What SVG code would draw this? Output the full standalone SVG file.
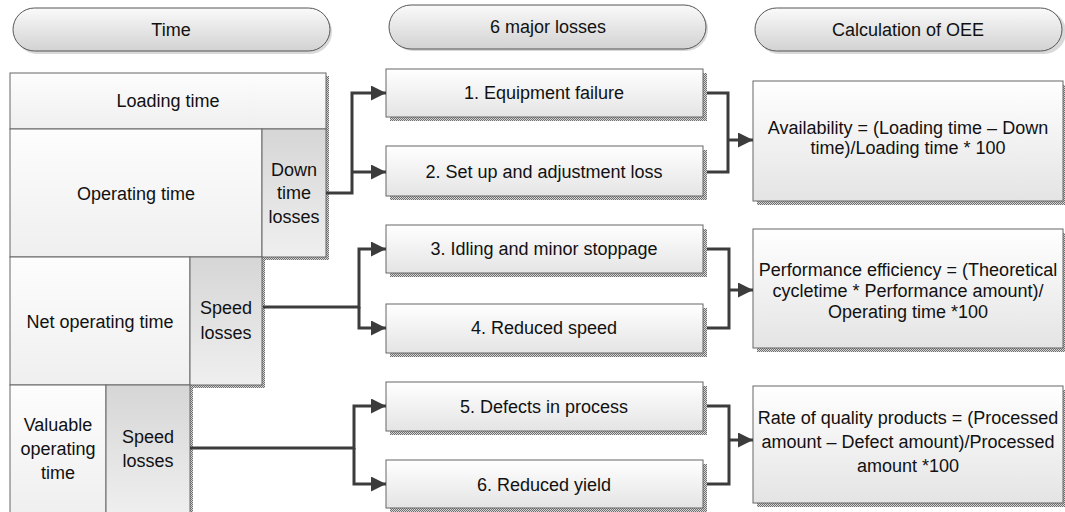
<svg xmlns="http://www.w3.org/2000/svg" width="1065" height="512" viewBox="0 0 1065 512">
  <defs>
    <linearGradient id="pillFill" x1="0" y1="0" x2="0" y2="1">
      <stop offset="0" stop-color="#fafafa"/>
      <stop offset="1" stop-color="#d2d2d2"/>
    </linearGradient>
    <linearGradient id="boxFill" x1="0" y1="0" x2="0" y2="1">
      <stop offset="0" stop-color="#ffffff"/>
      <stop offset="1" stop-color="#e4e4e4"/>
    </linearGradient>
    <linearGradient id="cellFill" x1="0" y1="0" x2="0" y2="1">
      <stop offset="0" stop-color="#fdfdfd"/>
      <stop offset="1" stop-color="#efefef"/>
    </linearGradient>
    <linearGradient id="lossFill" x1="0" y1="0" x2="0" y2="1">
      <stop offset="0" stop-color="#d6d6d6"/>
      <stop offset="1" stop-color="#efefef"/>
    </linearGradient>
    <pattern id="dots" width="2" height="2" patternUnits="userSpaceOnUse">
      <rect width="2" height="2" fill="#d8d8d8"/>
      <rect width="1" height="1" fill="#6e6e6e"/>
      <rect x="1" y="1" width="1" height="1" fill="#6e6e6e"/>
    </pattern>
    <marker id="arrow" viewBox="0 0 10 10" refX="10" refY="5" markerWidth="17" markerHeight="15" markerUnits="userSpaceOnUse" orient="auto">
      <path d="M0,0 L10,5 L0,10 z" fill="#3c3c3c"/>
    </marker>
  </defs>
  <style>
    text { font-family: "Liberation Sans", Arial, sans-serif; font-size: 18px; fill: #111; text-anchor: middle; }
    .pill { fill: url(#pillFill); stroke: #555; stroke-width: 1; }
    .pillShadow { fill: #d9d9d9; }
    .box { fill: url(#boxFill); stroke: #666; stroke-width: 1; }
    .shadow { fill: url(#dots); }
    .cell { fill: url(#cellFill); stroke: #666; stroke-width: 1; }
    .loss { fill: url(#lossFill); stroke: #666; stroke-width: 1; }
    .conn { fill: none; stroke: #3c3c3c; stroke-width: 3; }
  </style>

  <rect width="1065" height="512" fill="#ffffff"/>

  <!-- column headers -->
  <g id="header-time">
    <rect class="pillShadow" x="15" y="10" width="317" height="44" rx="22"/>
    <rect class="pill" x="13" y="8" width="317" height="43" rx="21.5"/>
    <text x="171" y="36">Time</text>
  </g>
  <g id="header-losses">
    <rect class="pillShadow" x="391" y="7" width="317" height="44" rx="22"/>
    <rect class="pill" x="389" y="5" width="317" height="44" rx="22"/>
    <text x="548" y="33">6 major losses</text>
  </g>
  <g id="header-oee">
    <rect class="pillShadow" x="757" y="10" width="309" height="44" rx="22"/>
    <rect class="pill" x="755" y="8" width="307" height="43" rx="21.5"/>
    <text x="908" y="36">Calculation of OEE</text>
  </g>

  <!-- stacked time breakdown -->
  <g id="time-shadow">
    <polygon class="shadow" points="326,76 329,76 329,260 265,260 265,388 193,388 193,512 190,512 190,385 262,385 262,257 326,257"/>
  </g>
  <g id="loading-time">
    <rect class="cell" x="10" y="73" width="316" height="56"/>
    <text x="168" y="107">Loading time</text>
  </g>
  <g id="operating-time">
    <rect class="cell" x="10" y="129" width="252" height="128"/>
    <text x="136" y="200">Operating time</text>
  </g>
  <g id="down-time-losses">
    <rect class="loss" x="262" y="129" width="64" height="128"/>
    <text x="294" y="176">Down</text>
    <text x="294" y="199">time</text>
    <text x="294" y="223">losses</text>
  </g>
  <g id="net-operating-time">
    <rect class="cell" x="10" y="257" width="180" height="128"/>
    <text x="100" y="328">Net operating time</text>
  </g>
  <g id="speed-losses-1">
    <rect class="loss" x="190" y="257" width="72" height="128"/>
    <text x="226" y="314">Speed</text>
    <text x="226" y="339">losses</text>
  </g>
  <g id="valuable-operating-time">
    <rect class="cell" x="10" y="385" width="96" height="130"/>
    <text x="58" y="431">Valuable</text>
    <text x="58" y="455">operating</text>
    <text x="58" y="479">time</text>
  </g>
  <g id="speed-losses-2">
    <rect class="loss" x="106" y="385" width="84" height="130"/>
    <text x="148" y="443">Speed</text>
    <text x="148" y="467">losses</text>
  </g>

  <!-- six major losses -->
  <g id="loss-1">
    <rect class="shadow" x="390" y="73" width="317" height="48"/>
    <rect class="box" x="386" y="69" width="317" height="48"/>
    <text x="544" y="99">1. Equipment failure</text>
  </g>
  <g id="loss-2">
    <rect class="shadow" x="390" y="150" width="317" height="50"/>
    <rect class="box" x="386" y="146" width="317" height="50"/>
    <text x="544" y="178">2. Set up and adjustment loss</text>
  </g>
  <g id="loss-3">
    <rect class="shadow" x="390" y="229" width="317" height="48"/>
    <rect class="box" x="386" y="225" width="317" height="48"/>
    <text x="544" y="255">3. Idling and minor stoppage</text>
  </g>
  <g id="loss-4">
    <rect class="shadow" x="390" y="308" width="317" height="49"/>
    <rect class="box" x="386" y="304" width="317" height="49"/>
    <text x="544" y="334">4. Reduced speed</text>
  </g>
  <g id="loss-5">
    <rect class="shadow" x="390" y="386" width="317" height="49"/>
    <rect class="box" x="386" y="382" width="317" height="49"/>
    <text x="544" y="413">5. Defects in process</text>
  </g>
  <g id="loss-6">
    <rect class="shadow" x="390" y="464" width="317" height="48"/>
    <rect class="box" x="386" y="460" width="317" height="48"/>
    <text x="544" y="491">6. Reduced yield</text>
  </g>

  <!-- OEE formulas -->
  <g id="availability">
    <rect class="shadow" x="757" y="85" width="310" height="120"/>
    <rect class="box" x="753" y="81" width="310" height="120"/>
    <text x="908" y="134">Availability = (Loading time – Down</text>
    <text x="908" y="154">time)/Loading time * 100</text>
  </g>
  <g id="performance-efficiency">
    <rect class="shadow" x="757" y="233" width="310" height="119"/>
    <rect class="box" x="753" y="229" width="310" height="119"/>
    <text x="908" y="276">Performance efficiency = (Theoretical</text>
    <text x="908" y="297">cycletime * Performance amount)/</text>
    <text x="908" y="318">Operating time *100</text>
  </g>
  <g id="quality-rate">
    <rect class="shadow" x="757" y="390" width="310" height="117"/>
    <rect class="box" x="753" y="386" width="310" height="117"/>
    <text x="908" y="424">Rate of quality products = (Processed</text>
    <text x="908" y="448">amount – Defect amount)/Processed</text>
    <text x="908" y="472">amount *100</text>
  </g>

  <!-- connectors -->
  <g id="connectors">
    <path class="conn" d="M326,193 H352 V93 H386" marker-end="url(#arrow)"/>
    <path class="conn" d="M352,172 H386" marker-end="url(#arrow)"/>
    <path class="conn" d="M263,307 H359 V249 H386" marker-end="url(#arrow)"/>
    <path class="conn" d="M359,307 V328 H386" marker-end="url(#arrow)"/>
    <path class="conn" d="M190,448 H354 V406 H386" marker-end="url(#arrow)"/>
    <path class="conn" d="M354,448 V484 H386" marker-end="url(#arrow)"/>

    <path class="conn" d="M707,93 H728 V172 H707"/>
    <path class="conn" d="M728,140 H753" marker-end="url(#arrow)"/>
    <path class="conn" d="M707,249 H729 V328 H707"/>
    <path class="conn" d="M729,290 H753" marker-end="url(#arrow)"/>
    <path class="conn" d="M707,406 H729 V484 H707"/>
    <path class="conn" d="M729,440 H753" marker-end="url(#arrow)"/>
  </g>
</svg>
